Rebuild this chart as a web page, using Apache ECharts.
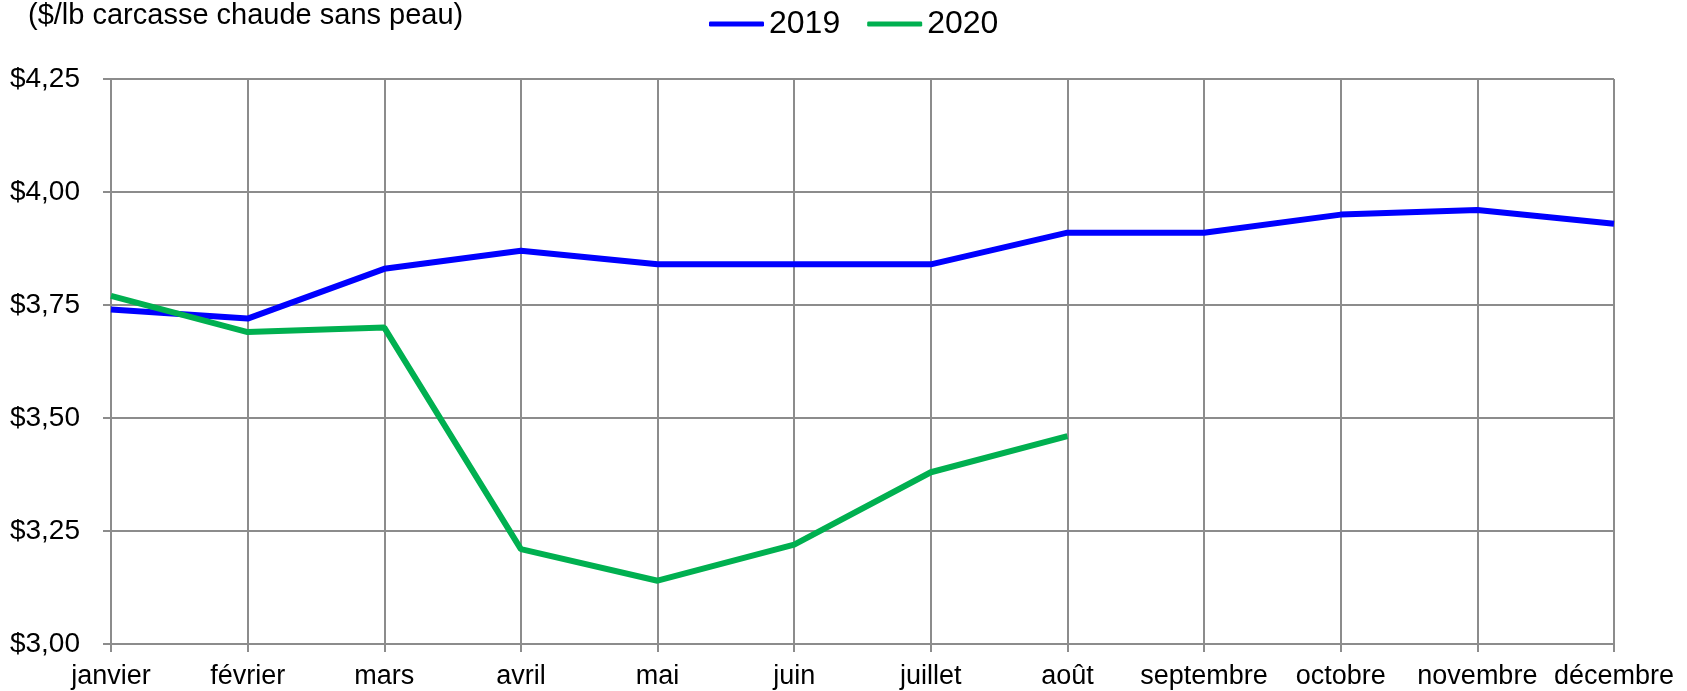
<!DOCTYPE html>
<html>
<head>
<meta charset="utf-8">
<script src="https://cdn.jsdelivr.net/npm/echarts@6/dist/echarts.min.js"></script>
<style>
    html, body { margin: 0; padding: 0; background: #fff; }
    #chart { width: 1687px; height: 691px; }
</style>
</head>
<body>
<div id="chart"></div>
<script>
    // mois (axe x)
    var months = ['janvier', 'février', 'mars', 'avril', 'mai', 'juin',
        'juillet', 'août', 'septembre', 'octobre', 'novembre', 'décembre'];

    // prix 2019 et 2020 ($/lb)
    var prix2019 = [3.74, 3.72, 3.83, 3.87, 3.84, 3.84, 3.84, 3.91, 3.91, 3.95, 3.96, 3.93];
    var prix2020 = [3.77, 3.69, 3.70, 3.21, 3.14, 3.22, 3.38, 3.46];

    var fontFamily = '"Liberation Sans", Arial, sans-serif';
    var gridColor = '#8c8c8c';

    var chart = echarts.init(document.getElementById('chart'));
    var option = {
        animation: false,
        backgroundColor: '#fff',
        graphic: [{
            type: 'text',
            left: 28,
            top: 1,
            style: {
                text: '($/lb carcasse chaude sans peau)',
                font: '29px ' + fontFamily,
                fill: '#000'
            }
        }],
        legend: {
            left: 704,
            top: 3,
            icon: 'roundRect',
            itemWidth: 55,
            itemHeight: 5,
            itemGap: 27,
            textStyle: {fontSize: 32, fontFamily: fontFamily, color: '#000'},
            data: ['2019', '2020']
        },
        grid: {
            left: 111,
            right: 73,
            top: 79,
            bottom: 47,
            containLabel: false
        },
        xAxis: {
            type: 'category',
            boundaryGap: false,
            data: months,
            axisLine: {lineStyle: {color: gridColor, width: 2}},
            axisTick: {show: true, interval: 0, length: 8, lineStyle: {color: gridColor, width: 2}},
            axisLabel: {
                interval: 0,
                margin: 19,
                fontSize: 27,
                fontFamily: fontFamily,
                color: '#000'
            },
            splitLine: {show: true, interval: 0, lineStyle: {color: gridColor, width: 2}}
        },
        yAxis: {
            type: 'value',
            min: 3,
            max: 4.25,
            interval: 0.25,
            axisLine: {show: true, lineStyle: {color: gridColor, width: 2}},
            axisTick: {show: true, length: 8, lineStyle: {color: gridColor, width: 2}},
            axisLabel: {
                margin: 31,
                fontSize: 28,
                fontFamily: fontFamily,
                color: '#000',
                formatter: function (v) {
                    return '$' + v.toFixed(2).replace('.', ',');
                }
            },
            splitLine: {show: true, lineStyle: {color: gridColor, width: 2}}
        },
        series: [
            {
                name: '2019',
                type: 'line',
                data: prix2019,
                symbol: 'none',
                lineStyle: {color: '#0000ff', width: 6},
                itemStyle: {color: '#0000ff'}
            },
            {
                name: '2020',
                type: 'line',
                data: prix2020,
                symbol: 'none',
                lineStyle: {color: '#00b050', width: 6},
                itemStyle: {color: '#00b050'}
            }
        ]
    };
    chart.setOption(option);
</script>
</body>
</html>
